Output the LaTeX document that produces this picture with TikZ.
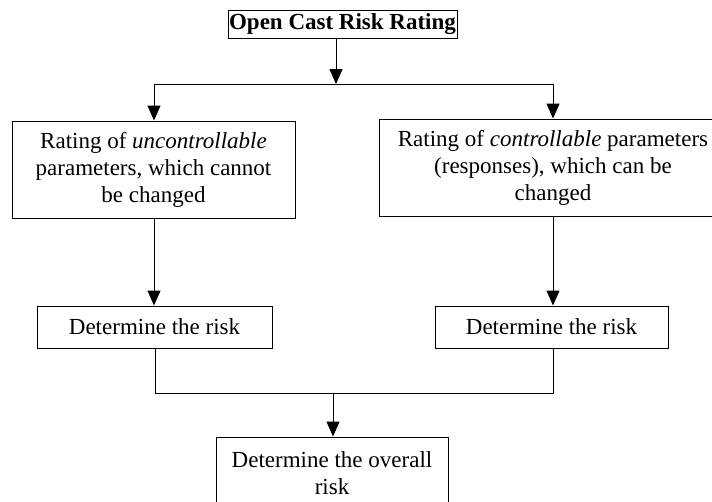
\documentclass[tikz,border=0pt]{standalone}
\usepackage{fontspec}
\setmainfont{Liberation Serif}
\usetikzlibrary{arrows.meta}
\begin{document}
\begin{tikzpicture}[x=1pt,y=-1pt,
  box/.style={draw,line width=1pt,inner sep=0pt,align=center,font=\fontsize{23}{27}\selectfont},
  conn/.style={line width=1pt},
  arr/.style={conn,-{Triangle[width=13pt,length=15pt]}}]
\clip (0,0) rectangle (712,501);
\fill[white] (0,0) rectangle (712,501);
% nodes
\node[box,minimum width=229pt,minimum height=28pt] (title) at (342.5,24) {\bfseries Open Cast Risk Rating};
\node[box,minimum width=283pt,minimum height=97pt] (L) at (153.5,169.5)
  {Rating of \textit{uncontrollable}\\parameters, which cannot\\be changed};
\node[box,minimum width=348pt,minimum height=97pt] (R) at (553,167.5)
  {Rating of \textit{controllable} parameters\\(responses), which can be\\changed};
\node[box,minimum width=235pt,minimum height=42pt] (DL) at (154.5,327) {Determine the risk};
\node[box,minimum width=233pt,minimum height=42pt] (DR) at (551.5,327) {Determine the risk};
\node[box,minimum width=232pt,minimum height=72pt] (O) at (332,473) {Determine the overall\\risk};
% junction coordinates
\coordinate (split) at (336,84);
\coordinate (jl) at (154,84);
\coordinate (jr) at (553,84);
\coordinate (ml) at (155,393);
\coordinate (mr) at (553,393);
\coordinate (mc) at (333,393);
% connectors
\draw[arr] (split |- title.south) -- (split);
\draw[conn] (jl) -- (jr);
\draw[arr] (jl) -- (jl |- L.north);
\draw[arr] (jr) -- (jr |- R.north);
\draw[arr] (jl |- L.south) -- (jl |- DL.north);
\draw[arr] (jr |- R.south) -- (jr |- DR.north);
\draw[conn] (ml |- DL.south) -- (ml) -- (mr) -- (mr |- DR.south);
\draw[arr] (mc) -- (mc |- O.north);
\end{tikzpicture}
\end{document}
